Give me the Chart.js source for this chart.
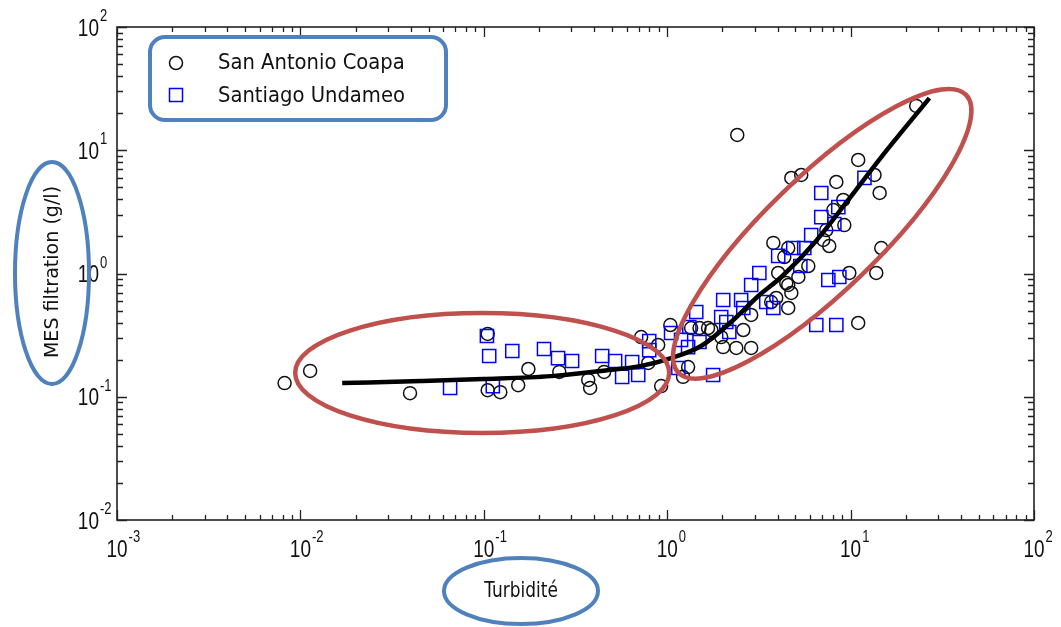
<!DOCTYPE html>
<html><head><meta charset="utf-8">
<script src="https://cdn.jsdelivr.net/npm/chart.js@4.4.1/dist/chart.umd.min.js"></script>
<style>html,body{margin:0;padding:0;background:#fff;}#wrap{width:1061px;height:627px;position:relative;}</style>
</head><body><div id="wrap"><canvas id="c" width="1061" height="627"></canvas></div>
<script>
// ---- data ----
const seriesNames = ['San Antonio Coapa', 'Santiago Undameo'];
const xAxisTitle = 'Turbidité';
const yAxisTitle = 'MES filtration (g/l)';
const xTickExponents = [-3, -2, -1, 0, 1, 2];
const yTickExponents = [-2, -1, 0, 1, 2];

const coapaX = [0.0082,0.0113,0.0396,0.105,0.105,0.123,0.154,0.175,0.258,0.371,0.380,0.453,0.721,0.788,0.927,1.04,0.893,1.35,1.50,1.67,1.74,1.97,2.02,2.38,2.87,2.60,2.87,1.30,1.22,3.69,3.93,4.57,4.75,4.46,4.03,5.19,5.88,4.35,3.79,4.57,7.65,7.10,7.37,9.24,8.05,9.12,8.36,5.38,4.75,11.0,14.4,13.5,14.7,13.8,9.84,11.0,22.8,2.41,4.57];
const coapaY = [0.129,0.162,0.107,0.323,0.113,0.109,0.124,0.168,0.159,0.137,0.118,0.159,0.305,0.188,0.122,0.382,0.263,0.361,0.361,0.361,0.348,0.305,0.253,0.249,0.249,0.348,0.461,0.174,0.145,0.587,0.633,0.525,0.695,0.837,1.01,0.937,1.15,1.36,1.77,1.61,1.67,1.87,2.25,2.47,3.27,3.95,5.53,6.30,5.96,8.34,4.50,6.30,1.61,1.01,1.01,0.397,22.9,13.3,0.807];

const undameoX = [0.0655,0.104,0.107,0.112,0.143,0.213,0.254,0.303,0.442,0.520,0.568,0.644,0.695,0.798,0.798,1.05,1.19,1.30,1.32,1.44,1.50,1.15,1.78,2.02,1.97,2.10,2.18,2.53,2.60,2.87,3.18,3.47,3.79,4.03,4.87,5.59,5.32,6.10,6.92,8.15,8.57,6.92,11.9,7.56,8.68,6.50,8.36];
const undameoY = [0.118,0.311,0.214,0.122,0.235,0.244,0.206,0.195,0.214,0.195,0.145,0.191,0.150,0.283,0.239,0.329,0.289,0.253,0.368,0.487,0.278,0.171,0.150,0.610,0.444,0.404,0.335,0.610,0.525,0.807,1.01,0.587,0.525,1.39,1.61,1.61,1.15,2.05,2.87,2.52,3.46,4.50,5.96,0.886,0.937,0.382,0.382];

const fitX = [0.0169,0.0455,0.099,0.233,0.436,0.721,1.05,1.53,2.23,3.14,4.19,6.34,9.71,14.7,26.9];
const fitY = [0.129,0.134,0.139,0.147,0.162,0.178,0.206,0.258,0.404,0.657,0.937,1.77,3.95,8.81,26.5];

// highlighted clusters (centres in data units)
const clusterCentersX = [0.098, 7.0];
const clusterCentersY = [0.156, 2.1];

const pts = (xs, ys) => xs.map((v, i) => ({x: v, y: ys[i]}));

function drawText(ctx, txt, x, y, font, align, baseline, sx, sy, rot) {
  ctx.save();
  ctx.translate(x, y);
  if (rot) ctx.rotate(rot);
  ctx.scale(sx, sy);
  ctx.font = font; ctx.textAlign = align; ctx.textBaseline = baseline;
  ctx.fillText(txt, 0, 0);
  ctx.restore();
}

const framePlugin = {
  id: 'frame',
  beforeDatasetsDraw(chart) {
    const {ctx, chartArea: a, scales: {x, y}} = chart;
    ctx.save();
    ctx.strokeStyle = '#222';
    ctx.lineWidth = 1.6;
    ctx.strokeRect(a.left, a.top, a.right - a.left, a.bottom - a.top);
    ctx.lineWidth = 1.3;
    ctx.beginPath();
    const xe0 = xTickExponents[0], xe1 = xTickExponents[xTickExponents.length - 1];
    for (let e = xe0; e <= xe1; e++) {
      for (let m = 1; m <= 9; m++) {
        if (e === xe1 && m > 1) break;
        const px = Math.round(x.getPixelForValue(m * Math.pow(10, e))) + 0.5;
        const len = m === 1 ? 10 : 5;
        ctx.moveTo(px, a.bottom); ctx.lineTo(px, a.bottom - len);
        ctx.moveTo(px, a.top); ctx.lineTo(px, a.top + len);
      }
    }
    const ye0 = yTickExponents[0], ye1 = yTickExponents[yTickExponents.length - 1];
    for (let e = ye0; e <= ye1; e++) {
      for (let m = 1; m <= 9; m++) {
        if (e === ye1 && m > 1) break;
        const py = Math.round(y.getPixelForValue(m * Math.pow(10, e))) + 0.5;
        const len = m === 1 ? 10 : 6;
        ctx.moveTo(a.left, py); ctx.lineTo(a.left + len, py);
        ctx.moveTo(a.right, py); ctx.lineTo(a.right - len, py);
      }
    }
    ctx.stroke();

    // tick labels
    ctx.fillStyle = '#111';
    const base = '19px "Liberation Sans", Arial, sans-serif';
    const sup = '13px "Liberation Sans", Arial, sans-serif';
    xTickExponents.forEach(e => {
      const px = x.getPixelForValue(Math.pow(10, e));
      ctx.font = base;
      const w = ctx.measureText('10').width;
      drawText(ctx, '10', px, a.bottom + 37, base, 'center', 'alphabetic', 1, 1.25);
      drawText(ctx, String(e), px + w / 2 + 1, a.bottom + 22, sup, 'left', 'alphabetic', 1, 1.25);
    });
    yTickExponents.forEach(e => {
      const py = y.getPixelForValue(Math.pow(10, e));
      drawText(ctx, '10', a.left - 18, py + 8.5, base, 'right', 'alphabetic', 1, 1.25);
      drawText(ctx, String(e), a.left - 17, py - 6, sup, 'left', 'alphabetic', 1, 1.25);
    });

    // axis titles
    drawText(ctx, xAxisTitle, 521, 597, '17px "DejaVu Sans", sans-serif', 'center', 'alphabetic', 1, 1.2);
    drawText(ctx, yAxisTitle, 58, 272, '18.5px "DejaVu Sans", sans-serif', 'center', 'alphabetic', 1.03, 1.05, -Math.PI / 2);
    ctx.restore();
  },
  afterDatasetsDraw(chart) {
    const {ctx, scales: {x, y}} = chart;
    ctx.save();
    // red cluster ellipses
    ctx.strokeStyle = '#C0504D';
    ctx.lineWidth = 4.5;
    const rx = [187, 200], ry = [60, 57], rot = [0, -44 * Math.PI / 180];
    clusterCentersX.forEach((cx, i) => {
      ctx.beginPath();
      ctx.ellipse(x.getPixelForValue(cx), y.getPixelForValue(clusterCentersY[i]), rx[i], ry[i], rot[i], 0, Math.PI * 2);
      ctx.stroke();
    });
    // blue highlight ellipses on axis titles
    ctx.strokeStyle = '#4F81BD';
    ctx.lineWidth = 4;
    ctx.beginPath(); ctx.ellipse(52, 273, 37, 111, 0, 0, Math.PI * 2); ctx.stroke();
    ctx.beginPath(); ctx.ellipse(521, 591, 77, 33, 0, 0, Math.PI * 2); ctx.stroke();

    // legend
    ctx.fillStyle = '#fff';
    ctx.beginPath(); ctx.roundRect(150, 37, 296, 83, 15); ctx.fill(); ctx.stroke();
    ctx.lineWidth = 1.5;
    ctx.strokeStyle = '#111';
    ctx.beginPath(); ctx.arc(176, 63, 6.5, 0, Math.PI * 2); ctx.stroke();
    ctx.strokeStyle = '#0000ff';
    ctx.strokeRect(169.5, 88.5, 13, 13);
    ctx.fillStyle = '#111';
    const lf = '19.6px "DejaVu Sans", sans-serif';
    drawText(ctx, seriesNames[0], 218, 63, lf, 'left', 'middle', 1, 1.12);
    drawText(ctx, seriesNames[1], 218, 96, lf, 'left', 'middle', 1, 1.12);
    ctx.restore();
  }
};

new Chart(document.getElementById('c'), {
  type: 'scatter',
  data: {
    datasets: [
      {label: 'fit', type: 'line', data: pts(fitX, fitY), showLine: true, borderColor: '#000', borderWidth: 4.5,
       pointRadius: 0, cubicInterpolationMode: 'monotone', fill: false, order: 0},
      {label: seriesNames[1], data: pts(undameoX, undameoY), pointStyle: 'rect', pointRadius: 9.3,
       borderColor: '#0000ff', backgroundColor: 'rgba(0,0,0,0)', borderWidth: 1.5, order: 1},
      {label: seriesNames[0], data: pts(coapaX, coapaY), pointStyle: 'circle', pointRadius: 6.5,
       borderColor: '#111', backgroundColor: 'rgba(0,0,0,0)', borderWidth: 1.5, order: 2}
    ]
  },
  options: {
    responsive: false, animation: false, devicePixelRatio: 1, events: [],
    layout: {padding: {left: 117, right: 27, top: 27, bottom: 107}},
    plugins: {legend: {display: false}, tooltip: {enabled: false}},
    scales: {
      x: {type: 'logarithmic', min: 0.001, max: 100, display: false},
      y: {type: 'logarithmic', min: 0.01, max: 100, display: false}
    }
  },
  plugins: [framePlugin]
});
</script></body></html>
